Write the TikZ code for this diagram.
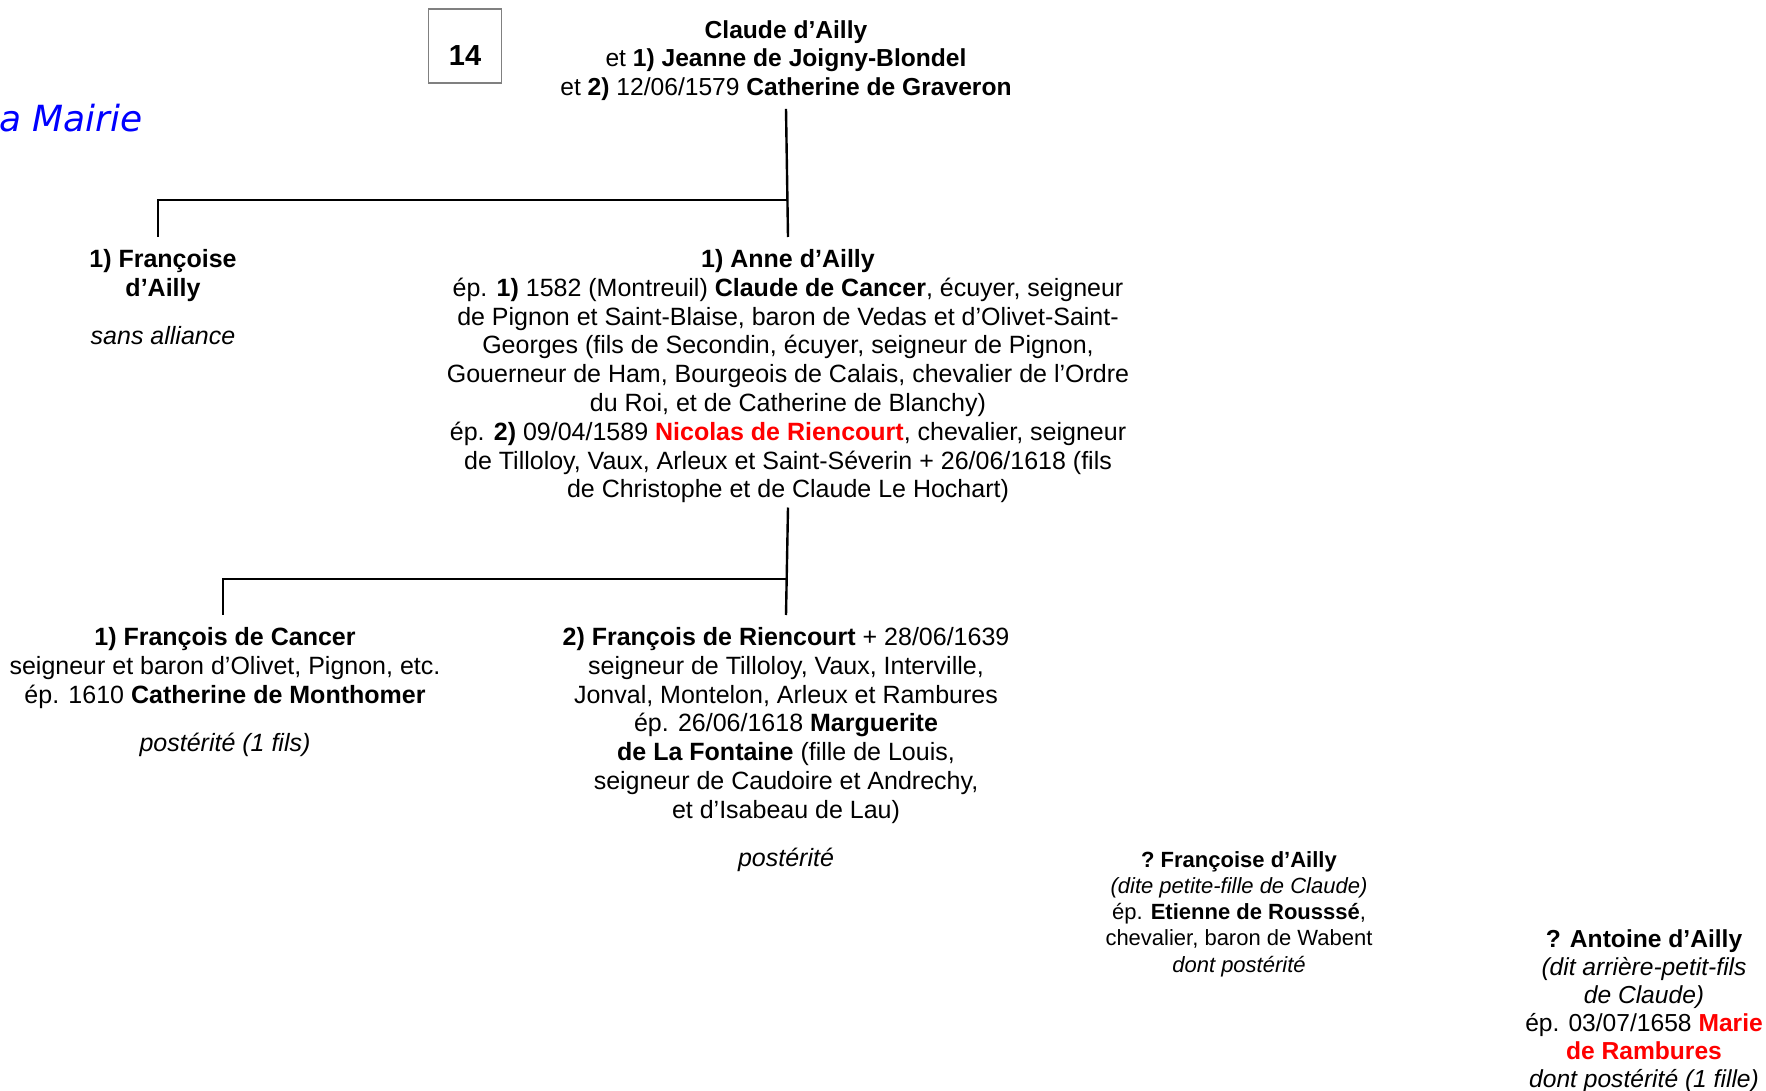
\documentclass[tikz,border=0pt]{standalone}
\usepackage{fontspec}
\setmainfont{Liberation Sans}
\newfontfamily\mairiefont{DejaVu Sans}
\definecolor{nomrouge}{RGB}{255,0,0}
\definecolor{lienbleu}{RGB}{0,0,255}

\begin{document}
\begin{tikzpicture}[x=0.5pt, y=-0.5pt, every node/.style={font=\fontsize{12.5}{14.4}\selectfont},
  person/.style={align=center, inner sep=0pt, anchor=north},
  small/.style={font=\fontsize{11}{13.1}\selectfont},
  tree/.style={line width=1.2pt}]
  \useasboundingbox (0,0) rectangle (1766,1091);
  \node[anchor=base east, text=lienbleu, font=\mairiefont\fontsize{18}{20}\selectfont\itshape] (mairie) at (150,132) {a\ Mairie};
  \node[draw=gray, line width=0.6pt, minimum width=36.5pt, minimum height=37pt, inner sep=0pt, text height=19.5pt, text depth=0pt, font=\fontsize{14.5}{16}\selectfont\bfseries] (num) at (465,46) {14};
  \node[person, font=\fontsize{12.3}{14.3}\selectfont] (claude) at (786,20) {\textbf{Claude\ d’Ailly}\\et \textbf{1) Jeanne de Joigny-Blondel}\\et \textbf{2)} 12/06/1579 \textbf{Catherine de Graveron}};
  \node[person] (francoise) at (163,249) {\textbf{1) Françoise}\\\textbf{d’Ailly}\\[9.6pt]\textit{sans\ alliance}};
  \node[person] (anne) at (788,249) {\textbf{1) Anne\ d’Ailly}\\ép. \textbf{1)} 1582 (Montreuil) \textbf{Claude de Cancer}, écuyer, seigneur\\de Pignon et Saint-Blaise, baron de Vedas et d’Olivet-Saint-\\Georges (fils de Secondin, écuyer, seigneur de Pignon,\\Gouerneur de Ham, Bourgeois de Calais, chevalier de l’Ordre\\du Roi, et de Catherine de Blanchy)\\ép. \textbf{2)} 09/04/1589 \textcolor{nomrouge}{\textbf{Nicolas de Riencourt}}, chevalier, seigneur\\de Tilloloy, Vaux, Arleux et Saint-Séverin + 26/06/1618 (fils\\de Christophe et de Claude Le Hochart)};
  \node[person] (fcancer) at (225,627) {\textbf{1) François de Cancer}\\seigneur et baron d’Olivet, Pignon, etc.\\ép. 1610 \textbf{Catherine de Monthomer}\\[9.7pt]\textit{postérité (1 fils)}};
  \node[person] (friencourt) at (786,627) {\textbf{2) François de Riencourt} + 28/06/1639\\seigneur de Tilloloy, Vaux, Interville,\\Jonval, Montelon, Arleux et Rambures\\ép. 26/06/1618 \textbf{Marguerite}\\\textbf{de La Fontaine} (fille de Louis,\\seigneur de Caudoire et Andrechy,\\et d’Isabeau de Lau)\\[9.7pt]\textit{postérité}};
  \node[person, small] (francoise2) at (1239,851) {\textbf{?\ Françoise\ d’Ailly}\\\textit{(dite\ petite-fille\ de\ Claude)}\\ép. \textbf{Etienne\ de\ Rousssé},\\chevalier, baron de Wabent\\\textit{dont\ postérité}};
  \node[person, font=\fontsize{12.3}{14}\selectfont] (antoine) at (1644,929) {\textbf{? Antoine d’Ailly}\\\textit{(dit\ arrière-petit-fils}\\\textit{de\ Claude)}\\ép. 03/07/1658 \textcolor{nomrouge}{\textbf{Marie}}\\\textcolor{nomrouge}{\textbf{de Rambures}}\\\textit{dont postérité (1 fille)}};
  % branches
  \coordinate (fork1) at (787,200);
  \coordinate (fork2) at (787,579);
  \draw[tree] ([yshift=-4pt]claude.south) -- ([yshift=6pt]anne.north);
  \draw[tree] (fork1) -| ([xshift=-2.5pt,yshift=6pt]francoise.north);
  \draw[tree] ([yshift=-2pt]anne.south) -- ([yshift=6pt]friencourt.north);
  \draw[tree] (fork2) -| ([xshift=-1pt,yshift=6pt]fcancer.north);
\end{tikzpicture}
\end{document}
